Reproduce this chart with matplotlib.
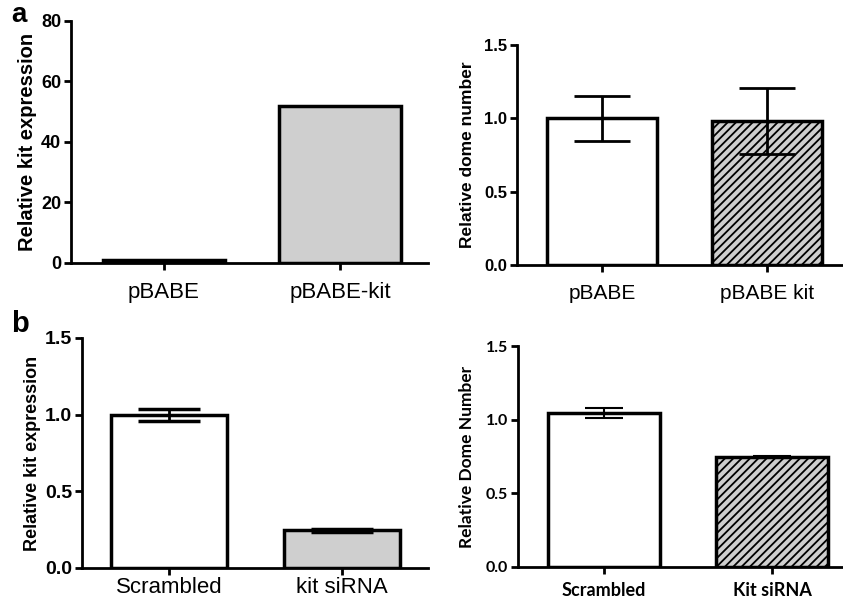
import numpy as np
import matplotlib.pyplot as plt

# panel a, left: kit expression after pBABE transduction
a1_labels = ["pBABE", "pBABE-kit"]
a1_values = [1.0, 51.8]
a1_ticks = [0, 20, 40, 60, 80]

# panel a, right: dome number
a2_labels = ["pBABE", "pBABE kit"]
a2_values = [1.0, 0.985]
a2_err = [0.155, 0.225]
a2_ticks = [0.0, 0.5, 1.0, 1.5]

# panel b, left: kit expression after siRNA
b1_labels = ["Scrambled", "kit siRNA"]
b1_values = [1.0, 0.245]
b1_err = [0.04, 0.012]
b1_ticks = [0.0, 0.5, 1.0, 1.5]

# panel b, right: dome number
b2_labels = ["Scrambled", "Kit siRNA"]
b2_values = [1.045, 0.748]
b2_err = [0.033, 0.006]
b2_ticks = [0.0, 0.5, 1.0, 1.5]

GREY = "#cfcfcf"
W, H = 843, 602

plt.rcParams['hatch.linewidth'] = 1.3
plt.rcParams['font.family'] = ['Liberation Sans', 'DejaVu Sans']

fig = plt.figure(figsize=(W / 100, H / 100), dpi=100)


def make_ax(x0, x1, ytop, ybot):
    # pixel box -> figure fraction
    return fig.add_axes([x0 / W, 1 - ybot / H, (x1 - x0) / W, (ybot - ytop) / H])


def style(ax, ticks, labels, xlim, tick_fs, label_fs, xpad, ylabel, ylabel_fs,
          ylabel_x, family, xbold):
    for s in ["top", "right"]:
        ax.spines[s].set_visible(False)
    for s in ["left", "bottom"]:
        ax.spines[s].set_linewidth(2)
    ax.set_xlim(*xlim)
    ax.set_ylim(ticks[0], ticks[-1])
    ax.set_yticks(ticks)
    ax.set_xticks(range(len(labels)))
    ax.tick_params(width=2, length=5)
    ax.tick_params(axis="y", pad=2)
    ax.tick_params(axis="x", pad=xpad)
    ax.set_xticklabels(labels, fontsize=label_fs, family=family,
                       fontweight="bold" if xbold else "normal")
    fmt = [f"{t:g}" if isinstance(t, int) else f"{t:.1f}" for t in ticks]
    ax.set_yticklabels(fmt, fontsize=tick_fs, fontweight="bold", family=family)
    ax.set_ylabel(ylabel, fontsize=ylabel_fs, fontweight="bold", family=family)
    ax.yaxis.set_label_coords(ylabel_x, 0.5)


# a left
ax = make_ax(71, 428, 21, 263)
ax.bar(range(2), a1_values, width=0.69, color=["white", GREY],
       edgecolor="black", linewidth=2.5)
style(ax, a1_ticks, a1_labels, (-0.525, 1.497), 13, 16, 9,
      "Relative kit expression", 14.5, -0.095, ['Liberation Sans'], False)

# a right
ax = make_ax(517, 843, 45, 265)
ax.bar(range(2), a2_values, width=0.667, color=["white", GREY],
       edgecolor="black", linewidth=2.5, hatch=["", "////"])
ax.errorbar(range(2), a2_values, yerr=a2_err, fmt="none", ecolor="black",
            elinewidth=2, capsize=20, capthick=2)
style(ax, a2_ticks, a2_labels, (-0.515, 1.46), 12, 15, 9,
      "Relative dome number", 12.5, -0.13, ['Liberation Sans'], False)

# b left
ax = make_ax(82, 428, 338, 568)
ax.bar(range(2), b1_values, width=0.67, color=["white", GREY],
       edgecolor="black", linewidth=2.5)
ax.errorbar(range(2), b1_values, yerr=b1_err, fmt="none", ecolor="black",
            elinewidth=2, capsize=22, capthick=2.5)
style(ax, b1_ticks, b1_labels, (-0.503, 1.497), 14, 16, 1.5,
      "Relative kit expression", 13, -0.118, ['Liberation Sans'], False)

# b right
ax = make_ax(518, 843, 346, 567)
ax.bar(range(2), b2_values, width=0.667, color=["white", GREY],
       edgecolor="black", linewidth=2.5, hatch=["", "////"])
ax.errorbar(range(2), b2_values, yerr=b2_err, fmt="none", ecolor="black",
            elinewidth=1.5, capsize=14, capthick=1.5)
style(ax, b2_ticks, b2_labels, (-0.512, 1.42), 11.5, 13, 6,
      "Relative Dome Number", 12.5, -0.133, ['Lato', 'DejaVu Sans'], True)

fig.text(19 / W, 1 - 15 / H, "a", fontsize=20, fontweight="bold", ha="center", va="center")
fig.text(20 / W, 1 - 324 / H, "b", fontsize=21, fontweight="bold", ha="center", va="center")

fig.savefig("out.png", dpi=100)
